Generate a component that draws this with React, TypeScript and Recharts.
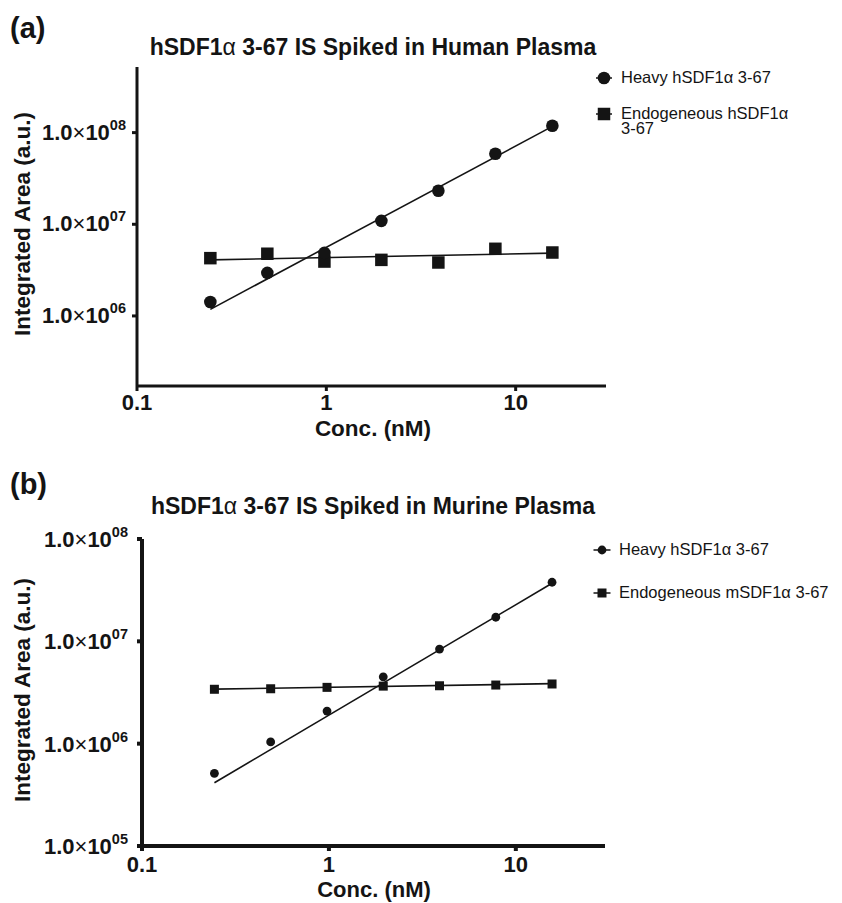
import React from 'react';
import { ScatterChart, Scatter, XAxis, YAxis, Legend } from 'recharts';

// ---------- data ----------
const CONC_NM = [0.244, 0.488, 0.977, 1.953, 3.906, 7.813, 15.625];
const FIT_CONC_NM = [0.244, 15.625];

const HUMAN_HEAVY = [1.42e6, 2.95e6, 4.88e6, 1.09e7, 2.32e7, 5.89e7, 1.19e8];
const HUMAN_ENDO = [4.27e6, 4.77e6, 3.92e6, 4.09e6, 3.83e6, 5.4e6, 4.92e6];
const HUMAN_HEAVY_FIT = [1.18e6, 1.17e8];
const HUMAN_ENDO_FIT = [4.09e6, 4.84e6];

const MURINE_HEAVY = [5.13e5, 1.04e6, 2.08e6, 4.5e6, 8.41e6, 1.72e7, 3.78e7];
const MURINE_ENDO = [3.4e6, 3.44e6, 3.55e6, 3.65e6, 3.68e6, 3.74e6, 3.83e6];
const MURINE_HEAVY_FIT = [4.15e5, 3.69e7];
const MURINE_ENDO_FIT = [3.41e6, 3.86e6];

const X_TICKS = [0.1, 1, 10];
const X_TICK_LABELS = ['0.1', '1', '10'];
const HUMAN_Y_TICKS = [1e6, 1e7, 1e8];
const MURINE_Y_TICKS = [1e5, 1e6, 1e7, 1e8];

const TITLE_A = 'hSDF1α 3-67 IS Spiked in Human Plasma';
const TITLE_B = 'hSDF1α 3-67 IS Spiked in Murine Plasma';
const LEGEND_A = ['Heavy hSDF1α 3-67', 'Endogeneous hSDF1α 3-67'];
const LEGEND_B = ['Heavy hSDF1α 3-67', 'Endogeneous mSDF1α 3-67'];
const X_TITLE = 'Conc. (nM)';
const Y_TITLE = 'Integrated Area (a.u.)';

const FONT = '"Liberation Sans", Arial, Helvetica, sans-serif';
const INK = '#141414';

const pts = (xs: number[], ys: number[]) => xs.map((x, i) => ({ x, y: ys[i] }));

// ---------- marks ----------
const makeCircle = (r: number) => (p: any) => (
  <circle cx={p.cx} cy={p.cy} r={r} fill={INK} />
);
const makeSquare = (s: number) => (p: any) => (
  <rect x={p.cx - s / 2} y={p.cy - s / 2} width={s} height={s} fill={INK} />
);
const NoShape = () => <g />;

// ---------- ticks ----------
const YTick = (p: any) => {
  const { x, y, payload, dx, dy } = p;
  const exp = String(Math.round(Math.log10(payload.value))).padStart(2, '0');
  return (
    <text x={x + dx} y={y + dy} textAnchor="end" fontFamily={FONT} fontWeight="bold" fontSize={22} fill={INK}>
      <tspan>1.0</tspan>
      <tspan fontWeight="normal">×</tspan>
      <tspan>10</tspan>
      <tspan dy={-10} fontSize={14.5}>{exp}</tspan>
    </text>
  );
};

const XTick = (p: any) => {
  const { x, y, payload, dy } = p;
  const idx = X_TICKS.indexOf(payload.value);
  return (
    <text x={x} y={y + dy} textAnchor="middle" fontFamily={FONT} fontWeight="bold" fontSize={22} fill={INK}>
      {idx >= 0 ? X_TICK_LABELS[idx] : payload.value}
    </text>
  );
};

// ---------- legend ----------
const LegendBox = ({ labels, r, s, rows, textWidth, half }: any) => (
  <div style={{ position: 'relative', width: '100%', height: '100%', fontFamily: FONT, color: INK }}>
    <svg width={30} height={90} style={{ position: 'absolute', left: 0, top: 0, overflow: 'visible' }}>
      {rows.map((cy: number, i: number) => (
        <g key={i}>
          <line x1={14 - half} x2={14 + half} y1={cy} y2={cy} stroke={INK} strokeWidth={1.5} />
          {i === 0 ? (
            <circle cx={14} cy={cy} r={r} fill={INK} />
          ) : (
            <rect x={14 - s / 2} y={cy - s / 2} width={s} height={s} fill={INK} />
          )}
        </g>
      ))}
    </svg>
    {rows.map((cy: number, i: number) => (
      <div
        key={i}
        style={{
          position: 'absolute',
          left: 31,
          top: cy - 8.5,
          width: textWidth,
          fontSize: 16.5,
          lineHeight: '15px',
        }}
      >
        {labels[i]}
      </div>
    ))}
  </div>
);

// ---------- panel ----------
const Panel = (cfg: any) => {
  const {
    top, height, marginTop, marginRight, yAxisWidth, xAxisHeight, yDomain, yTicks,
    heavy, endo, heavyFit, endoFit, r, s, axisW, yTickDx, yTickDy, xTickDy,
    legendLabels, legendLeft, legendTop, legendRows, legendTextWidth, legendHalf,
  } = cfg;
  return (
    <div style={{ position: 'absolute', left: 0, top, width: 842, height }}>
      <ScatterChart width={842} height={height} margin={{ top: marginTop, right: marginRight, bottom: 0, left: 0 }}>
        <XAxis
          type="number"
          dataKey="x"
          scale="log"
          domain={[0.1, 30]}
          ticks={X_TICKS}
          allowDataOverflow
          height={xAxisHeight}
          tickSize={5}
          axisLine={{ stroke: INK, strokeWidth: axisW }}
          tickLine={{ stroke: INK, strokeWidth: axisW }}
          tick={(p: any) => <XTick {...p} dy={xTickDy} />}
          interval={0}
        />
        <YAxis
          type="number"
          dataKey="y"
          scale="log"
          domain={yDomain}
          ticks={yTicks}
          allowDataOverflow
          width={yAxisWidth}
          tickSize={5}
          axisLine={{ stroke: INK, strokeWidth: axisW }}
          tickLine={{ stroke: INK, strokeWidth: axisW }}
          tick={(p: any) => <YTick {...p} dx={yTickDx} dy={yTickDy} />}
          interval={0}
        />
        <Scatter data={heavyFit} shape={NoShape} line={{ stroke: INK, strokeWidth: 1.6 }} isAnimationActive={false} legendType="none" />
        <Scatter data={endoFit} shape={NoShape} line={{ stroke: INK, strokeWidth: 1.6 }} isAnimationActive={false} legendType="none" />
        <Scatter data={endo} shape={makeSquare(s)} isAnimationActive={false} name={legendLabels[1]} />
        <Scatter data={heavy} shape={makeCircle(r)} isAnimationActive={false} name={legendLabels[0]} />
        <Legend
          layout="vertical"
          align="center"
          verticalAlign="middle"
          wrapperStyle={{ left: legendLeft, top: legendTop, width: 252, height: 95 }}
          content={() => (
            <LegendBox labels={legendLabels} r={r} s={s} rows={legendRows} textWidth={legendTextWidth} half={legendHalf} />
          )}
        />
      </ScatterChart>
    </div>
  );
};

const Overlay = () => (
  <svg width={842} height={903} style={{ position: 'absolute', left: 0, top: 0, pointerEvents: 'none' }}>
    <g fontFamily={FONT} fill={INK} fontWeight="bold">
      <text x={10} y={38} fontSize={29}>(a)</text>
      <text x={10} y={494} fontSize={29}>(b)</text>
      <text x={373} y={55} fontSize={23} textAnchor="middle">
        {TITLE_A.split('α')[0]}<tspan fontWeight="normal">α</tspan>{TITLE_A.split('α')[1]}
      </text>
      <text x={373} y={514} fontSize={23} textAnchor="middle">
        {TITLE_B.split('α')[0]}<tspan fontWeight="normal">α</tspan>{TITLE_B.split('α')[1]}
      </text>
      <text x={373} y={436} fontSize={22.5} textAnchor="middle">{X_TITLE}</text>
      <text x={374} y={897} fontSize={22} textAnchor="middle">{X_TITLE}</text>
      <text x={0} y={0} fontSize={22.5} textAnchor="middle" dominantBaseline="central" transform="translate(22,224) rotate(-90)">{Y_TITLE}</text>
      <text x={0} y={0} fontSize={22.5} textAnchor="middle" dominantBaseline="central" transform="translate(22,690) rotate(-90)">{Y_TITLE}</text>
    </g>
  </svg>
);

export default function App() {
  return (
    <div style={{ position: 'absolute', left: 0, top: 0, width: 842, height: 903, background: '#fff', overflow: 'hidden' }}>
      <Panel
        top={0}
        height={452}
        marginTop={67}
        marginRight={236}
        yAxisWidth={137}
        xAxisHeight={66}
        yDomain={[1.72e5, 5.2e8]}
        yTicks={HUMAN_Y_TICKS}
        heavy={pts(CONC_NM, HUMAN_HEAVY)}
        endo={pts(CONC_NM, HUMAN_ENDO)}
        heavyFit={pts(FIT_CONC_NM, HUMAN_HEAVY_FIT)}
        endoFit={pts(FIT_CONC_NM, HUMAN_ENDO_FIT)}
        r={6.3}
        s={12.5}
        axisW={3}
        yTickDx={-4}
        yTickDy={7}
        xTickDy={17}
        legendLabels={LEGEND_A}
        legendLeft={590}
        legendTop={60}
        legendRows={[18, 54]}
        legendTextWidth={178}
        legendHalf={8}
      />
      <Panel
        top={470}
        height={433}
        marginTop={69}
        marginRight={237}
        yAxisWidth={142}
        xAxisHeight={57}
        yDomain={[1e5, 1e8]}
        yTicks={MURINE_Y_TICKS}
        heavy={pts(CONC_NM, MURINE_HEAVY)}
        endo={pts(CONC_NM, MURINE_ENDO)}
        heavyFit={pts(FIT_CONC_NM, MURINE_HEAVY_FIT)}
        endoFit={pts(FIT_CONC_NM, MURINE_ENDO_FIT)}
        r={4.4}
        s={9}
        axisW={4}
        yTickDx={-7}
        yTickDy={8}
        xTickDy={19}
        legendLabels={LEGEND_B}
        legendLeft={588}
        legendTop={62}
        legendRows={[18, 61]}
        legendTextWidth={252}
        legendHalf={8.5}
      />
      <Overlay />
    </div>
  );
}
